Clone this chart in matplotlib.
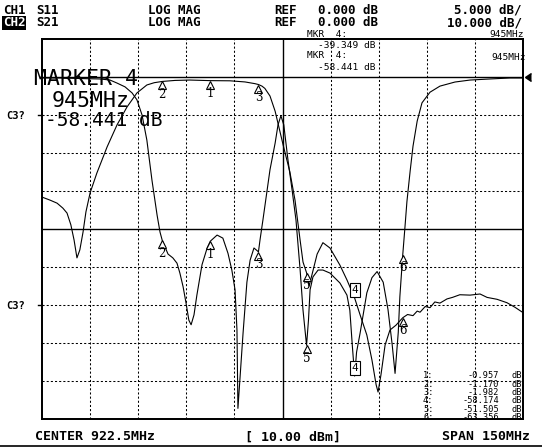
import matplotlib
matplotlib.use('Agg')
import matplotlib.pyplot as plt
from matplotlib.transforms import offset_copy

# ---------------- data ----------------
s21_f = [847.5, 850.0, 852.2, 854.0, 855.3, 856.5, 857.5, 858.4, 859.3, 860.3,
         861.2, 862.5, 864.6, 867.8, 870.9, 874.0, 877.1, 880.2, 882.5, 885.0,
         889.0, 893.6, 900.0, 906.1, 910.8, 913.9, 915.0, 916.1, 917.0, 918.6,
         920.2, 922.7, 924.8, 926.4, 928.0, 928.9, 930.0, 930.8, 931.7, 933.3,
         935.1, 937.3, 940.4, 942.6, 945.0, 946.7, 948.8, 950.4, 951.7, 952.3,
         953.2, 954.5, 956.0, 957.9, 960.0, 961.5, 963.2, 964.5, 965.4, 967.0,
         968.5, 970.0, 971.6, 973.8, 975.5, 977.8, 981.0, 984.1, 986.3, 989.4,
         992.5, 995.0, 997.5]
s21_db = [-31.6, -32.4, -33.2, -34.5, -35.8, -38.9, -42.9, -47.6, -45.5, -40.8,
          -35.5, -30.5, -25.3, -18.4, -12.6, -7.9, -4.2, -2.1, -1.5, -1.17,
          -0.9, -0.8, -0.957, -1.0, -1.3, -1.75, -1.982, -2.4, -3.0, -5.0,
          -9.0, -17.9, -25.0, -32.4, -43.0, -48.7, -51.505, -55.0, -52.0, -46.6,
          -43.6, -45.0, -49.5, -53.4, -58.174, -62.6, -67.9, -74.5, -81.0, -82.9,
          -78.4, -70.5, -66.6, -65.3, -63.356, -62.5, -62.8, -61.6, -61.9, -60.4,
          -60.7, -59.2, -59.5, -58.4, -58.0, -57.3, -57.4, -57.1, -58.0, -58.5,
          -59.4, -60.6, -62.0]

s11_f = [847.5, 853.1, 859.3, 865.6, 868.7, 870.9, 873.4, 875.6, 877.1, 878.7,
         880.2, 881.8, 883.4, 884.3, 885.0, 886.8, 888.3, 889.6, 890.5, 891.5,
         892.4, 893.3, 894.0, 894.9, 895.8, 897.4, 899.0, 900.0, 902.1, 903.9,
         905.5, 906.7, 907.7, 908.3, 908.6, 909.2, 910.2, 911.4, 912.4, 913.6,
         915.0, 915.5, 916.4, 917.7, 918.6, 920.2, 921.1, 922.0, 922.9, 924.2,
         925.5, 926.7, 928.0, 928.9, 930.0, 930.6, 931.1, 932.0, 933.6, 935.1,
         937.3, 940.4, 942.6, 943.5, 944.3, 945.0, 945.6, 946.7, 948.8, 950.4,
         952.0, 953.9, 955.4, 956.7, 957.6, 958.6, 959.1, 960.0, 960.7, 961.3,
         962.3, 963.2, 964.5, 966.0, 968.5, 971.6, 976.3, 981.0, 987.2, 993.4,
         997.5]
s11_db = [-0.13, -0.13, -0.2, -0.26, -0.4, -0.8, -1.3, -2.1, -3.0, -5.0,
          -8.3, -13.6, -18.2, -20.4, -21.5, -23.3, -23.8, -24.5, -25.8, -27.6,
          -29.7, -32.0, -32.6, -31.3, -28.7, -24.7, -22.5, -21.6, -20.8, -21.2,
          -23.2, -25.4, -28.0, -33.3, -43.6, -39.9, -33.7, -27.0, -24.1, -22.5,
          -23.0, -21.4, -18.8, -14.9, -12.2, -8.7, -6.3, -5.1, -6.3, -10.9,
          -14.9, -18.8, -25.4, -30.7, -35.3, -32.0, -28.0, -26.3, -25.4, -25.4,
          -25.8, -27.1, -28.7, -30.7, -35.5, -39.349, -36.2, -33.7, -28.4, -26.4,
          -25.6, -27.0, -30.6, -35.2, -39.0, -33.6, -28.9, -23.4, -19.7, -16.4,
          -12.4, -9.1, -5.8, -3.4, -2.0, -1.2, -0.66, -0.4, -0.26, -0.13,
          -0.13]

mk_num = [1, 2, 3, 4, 5, 6]
mk_f = [900, 885, 915, 945, 930, 960]
mk_s21 = [-0.957, -1.170, -1.982, -58.174, -51.505, -63.356]
mk_s11 = [-21.6, -21.5, -23.0, -39.349, -35.3, -23.4]
active = 4

center, span = 922.5, 150.0
s11_scale, s21_scale = 5.0, 10.0

# ---------------- figure ----------------
W, H = 542, 447
fig = plt.figure(figsize=(W / 100, H / 100), dpi=100)
fig.patch.set_facecolor('white')
L, R, T, B = 42, 523, 39, 419
ax = fig.add_axes([L / W, 1 - B / H, (R - L) / W, (B - T) / H])
fstart, fstop = center - span / 2, center + span / 2
ax.set_xlim(fstart, fstop)
ax.set_ylim(-9 * s11_scale, 1 * s11_scale)
ax2 = ax.twinx()
ax2.set_ylim(-9 * s21_scale, 1 * s21_scale)
for a in (ax, ax2):
    a.set_xticks([]); a.set_yticks([])
    for sp in a.spines.values():
        sp.set_linewidth(1.3)
        sp.set_color('black')

dot = (0, (2, 2))
for k in range(1, 10):
    f = fstart + k * span / 10
    if k == 5:
        ax.axvline(f, color='k', lw=1.0)
    else:
        ax.axvline(f, color='k', lw=0.75, ls=dot)
for k in range(1, 10):
    v = 5 - k * s11_scale
    if k in (1, 5):
        ax.axhline(v, color='k', lw=1.0)
    else:
        ax.axhline(v, color='k', lw=0.75, ls=dot)

ax.plot(s11_f, s11_db, color='k', lw=0.8)
ax2.plot(s21_f, s21_db, color='k', lw=0.8)

# reference triangle at right
ax.plot([fstop], [0], marker=4, color='k', ms=6, clip_on=False,
        transform=offset_copy(ax.transData, fig, x=2, units='dots'))

def draw_marker(a, f, v, n, is_active):
    if is_active:
        a.text(f, v, str(n), transform=offset_copy(a.transData, fig, y=8, units='dots'),
               ha='center', va='center', fontsize=8, family='DejaVu Sans Mono', zorder=5,
               bbox=dict(boxstyle='square,pad=0.15', facecolor='white', edgecolor='k', lw=0.8))
    else:
        a.plot([f], [v], marker='^', ms=5.5, mfc='white', mec='k', mew=0.8, zorder=5,
               transform=offset_copy(a.transData, fig, y=-4, units='dots'))
        a.text(f, v, str(n), transform=offset_copy(a.transData, fig, y=-13, units='dots'),
               ha='center', va='center', fontsize=8.5, family='DejaVu Serif', zorder=5)

for n, f, v1, v2 in zip(mk_num, mk_f, mk_s11, mk_s21):
    draw_marker(ax, f, v1, n, n == active)
    draw_marker(ax2, f, v2, n, n == active)

# ---------------- texts ----------------
def ft(x, y, s, **kw):
    kw.setdefault('va', 'center')
    kw.setdefault('ha', 'left')
    fig.text(x / W, 1 - y / H, s, **kw)

hdr = dict(family='DejaVu Sans Mono', fontweight='bold', fontsize=9)
ft(3, 10, 'CH1', **hdr)
ft(36, 10, 'S11', **hdr)
ft(148, 10, 'LOG MAG', **hdr)
ft(274, 10, 'REF', **hdr)
ft(318, 10, f'{0:.3f} dB', **hdr)
ft(522, 10, f'{s11_scale:.3f} dB/', ha='right', **hdr)
ft(3, 23, 'CH2', color='white',
   bbox=dict(facecolor='black', edgecolor='none', pad=0.6), **hdr)
ft(36, 23, 'S21', **hdr)
ft(148, 23, 'LOG MAG', **hdr)
ft(274, 23, 'REF', **hdr)
ft(318, 23, f'{0:.3f} dB', **hdr)
ft(522, 23, f'{s21_scale:.3f} dB/', ha='right', **hdr)

thin = dict(family='DejaVu Sans Mono', fontsize=6.8)
ft(307, 34.5, 'MKR  4:', **thin)
ft(524, 34.5, '945MHz', ha='right', **thin)
ft(318, 45.5, f'{mk_s11[3]:.3f} dB', **thin)
ft(307, 56, 'MKR  4:', **thin)
ft(526, 57, '945MHz', ha='right', **thin)
ft(318, 67, '-58.441 dB', **thin)

ft(34, 79, 'MARKER 4', family='DejaVu Sans Mono', fontsize=15.5)
ft(52, 101, '945MHz', family='DejaVu Sans Mono', fontsize=15.5)
ft(45, 121, '-58.441 dB', family='DejaVu Sans Mono', fontsize=14)

small = dict(family='DejaVu Sans Mono', fontweight='bold', fontsize=7.5)
ft(6, 116, 'C3?', **small)
ft(6, 306, 'C3?', **small)
fig.add_artist(plt.Line2D([38 / W, L / W], [1 - 115 / H, 1 - 115 / H], color='k', lw=1))
fig.add_artist(plt.Line2D([38 / W, L / W], [1 - 305 / H, 1 - 305 / H], color='k', lw=1))

bot = dict(family='DejaVu Sans Mono', fontweight='bold', fontsize=9.5)
ft(35, 437, f'CENTER {center:.1f}MHz', **bot)
ft(245, 437, '[ 10.00 dBm]', **bot)
ft(530, 437, f'SPAN {span:.0f}MHz', ha='right', **bot)
fig.add_artist(plt.Line2D([0, 1], [1 - 445.5 / H, 1 - 445.5 / H], color='k', lw=1.2))

lst = dict(family='DejaVu Sans Mono', fontsize=6.2)
for i, (n, v) in enumerate(zip(mk_num, mk_s21)):
    y = 376 + i * 8.3
    ft(423, y, f'{n}:', **lst)
    ft(499, y, f'{v:.3f}', ha='right', **lst)
    ft(511, y, 'dB', **lst)

fig.savefig('out.png', dpi=100)
